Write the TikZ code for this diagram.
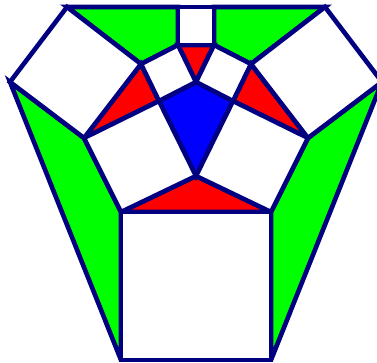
\documentclass[tikz,border=0pt]{standalone}
\definecolor{navyline}{RGB}{0,0,128}
\definecolor{greenfill}{RGB}{0,255,0}
\definecolor{redfill}{RGB}{255,0,0}
\definecolor{bluefill}{RGB}{0,0,255}
\begin{document}
\begin{tikzpicture}[x=1pt,y=-1pt,
  piece/.style={draw=navyline, line width=4.6pt, line join=miter, miter limit=4},
  greenpiece/.style={piece, fill=greenfill},
  redpiece/.style={piece, fill=redfill},
  bluepiece/.style={piece, fill=bluefill},
  whitepiece/.style={piece, fill=white}]
\useasboundingbox (0,0) rectangle (377,362);
\clip (0,0) rectangle (377,362);
% centre
\coordinate (T) at (196,82);
\coordinate (L) at (159,101);
\coordinate (R) at (233,101);
\coordinate (B) at (196,176);
% small squares
\coordinate (S1a) at (178,45);
\coordinate (S1b) at (141,64);
\coordinate (S2a) at (214,45);
\coordinate (S2b) at (251,64);
% large squares on lower sides
\coordinate (S3a) at (84,138);
\coordinate (S3b) at (121,212);
\coordinate (S4a) at (308,138);
\coordinate (S4b) at (271,212);
% top square
\coordinate (Q1) at (178,7);
\coordinate (Q2) at (214,7);
% outer corners
\coordinate (OTL) at (67,7);
\coordinate (OL) at (10,82);
\coordinate (OTR) at (325,7);
\coordinate (OR) at (382,82);
\coordinate (BL) at (121,360);
\coordinate (BR) at (271,360);
% greens
\filldraw[greenpiece] (OTL) -- (Q1) -- (S1a) -- (S1b) -- cycle;
\filldraw[greenpiece] (Q2) -- (OTR) -- (S2b) -- (S2a) -- cycle;
\filldraw[greenpiece] (OL) -- (S3a) -- (S3b) -- (BL) -- cycle;
\filldraw[greenpiece] (OR) -- (S4a) -- (S4b) -- (BR) -- cycle;
% reds
\filldraw[redpiece] (S1a) -- (S2a) -- (T) -- cycle;
\filldraw[redpiece] (S1b) -- (L) -- (S3a) -- cycle;
\filldraw[redpiece] (S2b) -- (R) -- (S4a) -- cycle;
\filldraw[redpiece] (S3b) -- (B) -- (S4b) -- cycle;
% blue
\filldraw[bluepiece] (T) -- (L) -- (B) -- (R) -- cycle;
% white squares
\filldraw[whitepiece] (Q1) -- (Q2) -- (S2a) -- (S1a) -- cycle;
\filldraw[whitepiece] (T) -- (S1a) -- (S1b) -- (L) -- cycle;
\filldraw[whitepiece] (T) -- (S2a) -- (S2b) -- (R) -- cycle;
\filldraw[whitepiece] (L) -- (S3a) -- (S3b) -- (B) -- cycle;
\filldraw[whitepiece] (R) -- (S4a) -- (S4b) -- (B) -- cycle;
\filldraw[whitepiece] (OTL) -- (S1b) -- (S3a) -- (OL) -- cycle;
\filldraw[whitepiece] (OTR) -- (S2b) -- (S4a) -- (OR) -- cycle;
\filldraw[whitepiece] (S3b) -- (S4b) -- (BR) -- (BL) -- cycle;
\end{tikzpicture}
\end{document}
